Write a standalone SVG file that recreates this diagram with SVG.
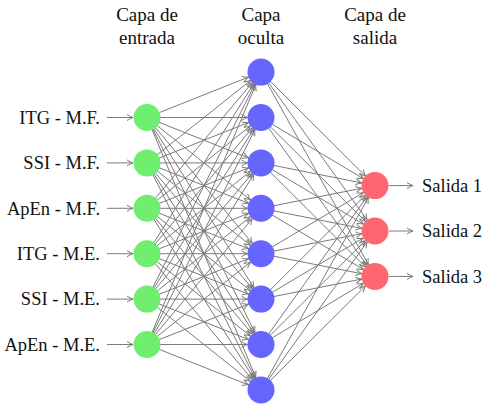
<svg xmlns="http://www.w3.org/2000/svg" width="500" height="410" viewBox="0 0 500 410" font-family="'Liberation Serif', 'Times New Roman', Times, serif">
<style>
text{fill:#111}
.lbl{font-size:18.5px}
.hdr{font-size:19px;text-anchor:middle}
.c line{stroke:#7a7a7a;stroke-width:1;marker-end:url(#ah)}
.io line{stroke:#7a7a7a;stroke-width:1;marker-end:url(#ah0)}
.in{fill:#70ee70}
.hid{fill:#6666ff}
.out{fill:#ff6670}
</style>
<defs>
<marker id="ah" markerUnits="userSpaceOnUse" markerWidth="1" markerHeight="1" refX="0" refY="0" orient="auto" overflow="visible">
<path d="M-19.5,-3 Q-16,-0.8 -13.5,0 Q-16,0.8 -19.5,3" fill="none" stroke="#7a7a7a" stroke-width="1"/>
</marker>
<marker id="ah0" markerUnits="userSpaceOnUse" markerWidth="1" markerHeight="1" refX="0" refY="0" orient="auto" overflow="visible">
<path d="M-6,-3 Q-2.5,-0.8 0,0 Q-2.5,0.8 -6,3" fill="none" stroke="#7a7a7a" stroke-width="1"/>
</marker>
</defs>
<g id="headers">
<text class="hdr" x="147" y="21">Capa de</text>
<text class="hdr" x="147" y="44">entrada</text>
<text class="hdr" x="261" y="21">Capa</text>
<text class="hdr" x="261" y="44">oculta</text>
<text class="hdr" x="375" y="21">Capa de</text>
<text class="hdr" x="375" y="44">salida</text>
</g>
<g id="connectors" class="c">
<line x1="147" y1="117.5" x2="261" y2="72.1"/><line x1="147" y1="117.5" x2="261" y2="117.5"/><line x1="147" y1="117.5" x2="261" y2="162.9"/><line x1="147" y1="117.5" x2="261" y2="208.3"/><line x1="147" y1="117.5" x2="261" y2="253.7"/><line x1="147" y1="117.5" x2="261" y2="299.1"/><line x1="147" y1="117.5" x2="261" y2="344.5"/><line x1="147" y1="117.5" x2="261" y2="389.9"/>
<line x1="147" y1="162.9" x2="261" y2="72.1"/><line x1="147" y1="162.9" x2="261" y2="117.5"/><line x1="147" y1="162.9" x2="261" y2="162.9"/><line x1="147" y1="162.9" x2="261" y2="208.3"/><line x1="147" y1="162.9" x2="261" y2="253.7"/><line x1="147" y1="162.9" x2="261" y2="299.1"/><line x1="147" y1="162.9" x2="261" y2="344.5"/><line x1="147" y1="162.9" x2="261" y2="389.9"/>
<line x1="147" y1="208.3" x2="261" y2="72.1"/><line x1="147" y1="208.3" x2="261" y2="117.5"/><line x1="147" y1="208.3" x2="261" y2="162.9"/><line x1="147" y1="208.3" x2="261" y2="208.3"/><line x1="147" y1="208.3" x2="261" y2="253.7"/><line x1="147" y1="208.3" x2="261" y2="299.1"/><line x1="147" y1="208.3" x2="261" y2="344.5"/><line x1="147" y1="208.3" x2="261" y2="389.9"/>
<line x1="147" y1="253.7" x2="261" y2="72.1"/><line x1="147" y1="253.7" x2="261" y2="117.5"/><line x1="147" y1="253.7" x2="261" y2="162.9"/><line x1="147" y1="253.7" x2="261" y2="208.3"/><line x1="147" y1="253.7" x2="261" y2="253.7"/><line x1="147" y1="253.7" x2="261" y2="299.1"/><line x1="147" y1="253.7" x2="261" y2="344.5"/><line x1="147" y1="253.7" x2="261" y2="389.9"/>
<line x1="147" y1="299.1" x2="261" y2="72.1"/><line x1="147" y1="299.1" x2="261" y2="117.5"/><line x1="147" y1="299.1" x2="261" y2="162.9"/><line x1="147" y1="299.1" x2="261" y2="208.3"/><line x1="147" y1="299.1" x2="261" y2="253.7"/><line x1="147" y1="299.1" x2="261" y2="299.1"/><line x1="147" y1="299.1" x2="261" y2="344.5"/><line x1="147" y1="299.1" x2="261" y2="389.9"/>
<line x1="147" y1="344.5" x2="261" y2="72.1"/><line x1="147" y1="344.5" x2="261" y2="117.5"/><line x1="147" y1="344.5" x2="261" y2="162.9"/><line x1="147" y1="344.5" x2="261" y2="208.3"/><line x1="147" y1="344.5" x2="261" y2="253.7"/><line x1="147" y1="344.5" x2="261" y2="299.1"/><line x1="147" y1="344.5" x2="261" y2="344.5"/><line x1="147" y1="344.5" x2="261" y2="389.9"/>
<line x1="261" y1="72.1" x2="375" y2="185.6"/><line x1="261" y1="72.1" x2="375" y2="231"/><line x1="261" y1="72.1" x2="375" y2="276.4"/>
<line x1="261" y1="117.5" x2="375" y2="185.6"/><line x1="261" y1="117.5" x2="375" y2="231"/><line x1="261" y1="117.5" x2="375" y2="276.4"/>
<line x1="261" y1="162.9" x2="375" y2="185.6"/><line x1="261" y1="162.9" x2="375" y2="231"/><line x1="261" y1="162.9" x2="375" y2="276.4"/>
<line x1="261" y1="208.3" x2="375" y2="185.6"/><line x1="261" y1="208.3" x2="375" y2="231"/><line x1="261" y1="208.3" x2="375" y2="276.4"/>
<line x1="261" y1="253.7" x2="375" y2="185.6"/><line x1="261" y1="253.7" x2="375" y2="231"/><line x1="261" y1="253.7" x2="375" y2="276.4"/>
<line x1="261" y1="299.1" x2="375" y2="185.6"/><line x1="261" y1="299.1" x2="375" y2="231"/><line x1="261" y1="299.1" x2="375" y2="276.4"/>
<line x1="261" y1="344.5" x2="375" y2="185.6"/><line x1="261" y1="344.5" x2="375" y2="231"/><line x1="261" y1="344.5" x2="375" y2="276.4"/>
<line x1="261" y1="389.9" x2="375" y2="185.6"/><line x1="261" y1="389.9" x2="375" y2="231"/><line x1="261" y1="389.9" x2="375" y2="276.4"/>
</g>
<g id="io-arrows" class="io">
<line x1="107" y1="117.5" x2="133" y2="117.5"/><line x1="107" y1="162.9" x2="133" y2="162.9"/><line x1="107" y1="208.3" x2="133" y2="208.3"/><line x1="107" y1="253.7" x2="133" y2="253.7"/><line x1="107" y1="299.1" x2="133" y2="299.1"/><line x1="107" y1="344.5" x2="133" y2="344.5"/>
<line x1="389" y1="185.6" x2="413" y2="185.6"/><line x1="389" y1="231" x2="413" y2="231"/><line x1="389" y1="276.4" x2="413" y2="276.4"/>
</g>
<g id="in1"><circle class="in" cx="147" cy="117.5" r="13.5"/><text class="lbl" x="100" y="123.8" text-anchor="end">ITG - M.F.</text></g>
<g id="in2"><circle class="in" cx="147" cy="162.9" r="13.5"/><text class="lbl" x="100" y="169.2" text-anchor="end">SSI - M.F.</text></g>
<g id="in3"><circle class="in" cx="147" cy="208.3" r="13.5"/><text class="lbl" x="100" y="214.6" text-anchor="end">ApEn - M.F.</text></g>
<g id="in4"><circle class="in" cx="147" cy="253.7" r="13.5"/><text class="lbl" x="100" y="260" text-anchor="end">ITG - M.E.</text></g>
<g id="in5"><circle class="in" cx="147" cy="299.1" r="13.5"/><text class="lbl" x="100" y="305.4" text-anchor="end">SSI - M.E.</text></g>
<g id="in6"><circle class="in" cx="147" cy="344.5" r="13.5"/><text class="lbl" x="100" y="350.8" text-anchor="end">ApEn - M.E.</text></g>
<g id="h1"><circle class="hid" cx="261" cy="72.1" r="13.5"/></g>
<g id="h2"><circle class="hid" cx="261" cy="117.5" r="13.5"/></g>
<g id="h3"><circle class="hid" cx="261" cy="162.9" r="13.5"/></g>
<g id="h4"><circle class="hid" cx="261" cy="208.3" r="13.5"/></g>
<g id="h5"><circle class="hid" cx="261" cy="253.7" r="13.5"/></g>
<g id="h6"><circle class="hid" cx="261" cy="299.1" r="13.5"/></g>
<g id="h7"><circle class="hid" cx="261" cy="344.5" r="13.5"/></g>
<g id="h8"><circle class="hid" cx="261" cy="389.9" r="13.5"/></g>
<g id="o1"><circle class="out" cx="375" cy="185.6" r="13.5"/><text class="lbl" x="422" y="191.9">Salida 1</text></g>
<g id="o2"><circle class="out" cx="375" cy="231" r="13.5"/><text class="lbl" x="422" y="237.3">Salida 2</text></g>
<g id="o3"><circle class="out" cx="375" cy="276.4" r="13.5"/><text class="lbl" x="422" y="282.7">Salida 3</text></g>
</svg>
